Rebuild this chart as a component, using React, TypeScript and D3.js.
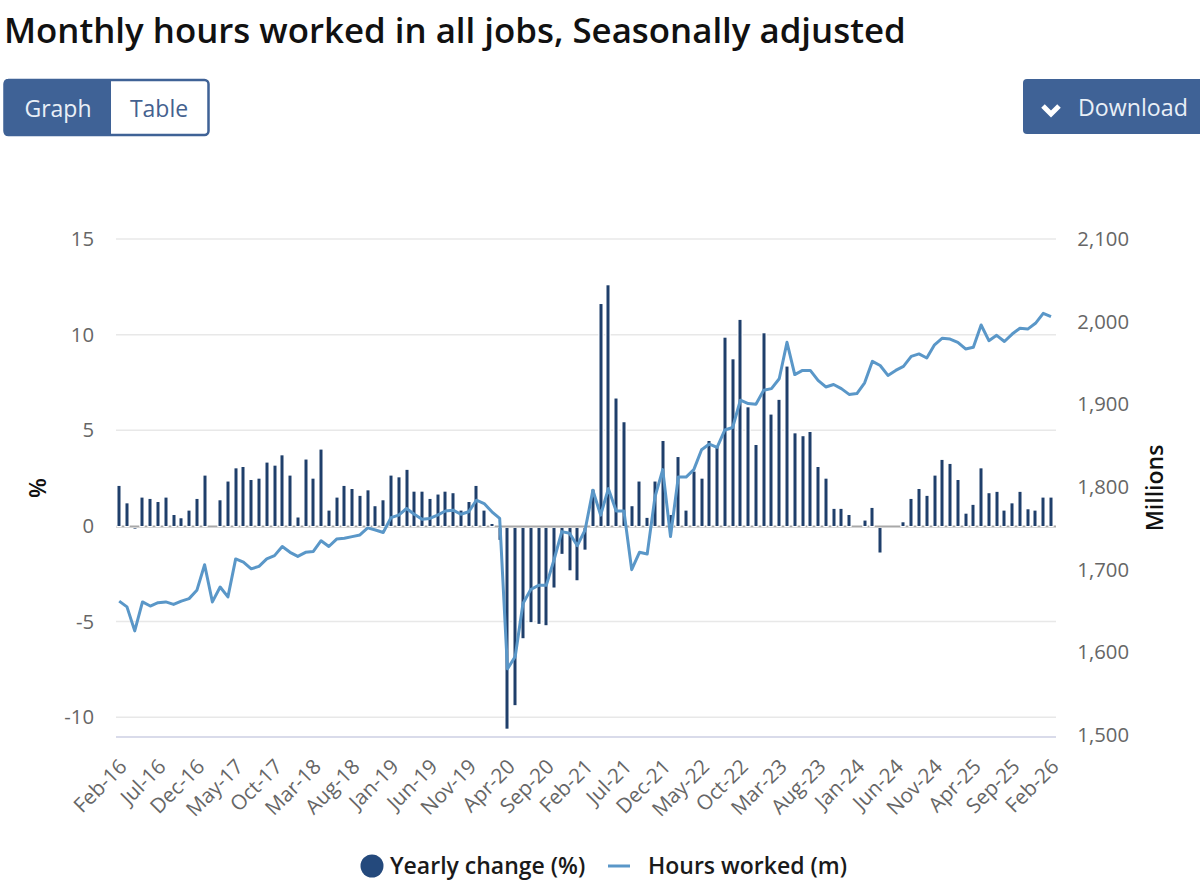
import React from "react";
import * as d3 from "d3";

const startYear = 2016;
const monthNames = ["Jan","Feb","Mar","Apr","May","Jun","Jul","Aug","Sep","Oct","Nov","Dec"];
const yearlyChange = [
  2.09,1.18,-0.14,1.48,1.41,1.25,1.48,0.57,0.4,0.8,1.41,2.63,0.02,1.34,2.32,3.01,3.08,2.4,2.47,3.31,
  3.15,3.69,2.63,0.44,3.47,2.47,3.99,0.8,1.48,2.09,1.93,1.57,1.86,1.03,1.34,2.63,2.54,2.93,1.79,1.79,
  1.41,1.64,1.79,1.71,0.8,1.25,2.09,0.8,0.1,-0.73,-10.6,-9.37,-5.87,-5.03,-5.12,-5.19,-3.22,-1.46,-2.32,-2.84,
  -1.24,1.9,11.6,12.58,6.66,5.42,1.03,2.32,0.42,2.32,4.44,0.57,3.6,0.8,2.84,2.47,4.44,4.15,9.84,8.71,
  10.77,6.2,4.23,10.07,5.82,6.59,8.33,4.84,4.69,4.91,3.08,2.47,0.89,0.89,0.57,0.03,0.28,0.94,-1.39,0.02,
  0.01,0.19,1.41,1.93,1.57,2.63,3.45,3.24,2.4,0.64,1.1,3.01,1.71,1.78,0.8,1.18,1.78,0.87,0.8,1.48,1.48,
];
const hoursWorked = [
  1662,1655,1626,1661,1656,1660,1661,1658,1662,1665,1675,1706,1661,1679,1667,1713,1709,1701,1704,1713,
  1717,1728,1721,1716,1721,1722,1735,1728,1737,1738,1740,1742,1750.5,1748,1745,1763,1766,1774,1767,1761,
  1762,1766,1771,1772,1767,1770,1784,1780,1770,1762,1580,1595,1659,1676,1681,1681,1712,1746,1744,1729,
  1748,1796,1766,1798,1771,1771,1700,1721,1719,1788,1821,1740,1812,1812,1821,1845,1852,1848,1869,1872,
  1905,1901,1900,1917,1919,1931,1975,1936,1941,1941,1929,1921,1924,1919,1912,1913,1926,1952,1947,1935,
  1941,1946,1958,1961,1956,1972,1980,1979,1975,1967,1969,1996,1977,1983.5,1976,1985,1992,1991,1998,2010,2006,
];
const leftTicks = [15, 10, 5, 0, -5, -10];
const rightTicks = [2100, 2000, 1900, 1800, 1700, 1600, 1500];
const labelEvery = 5;
const titleText = "Monthly hours worked in all jobs, Seasonally adjusted";

const FONT = "'Open Sans', sans-serif";
const BTN = "#3f6296";
const BAR = "#1f3f6b";
const LINE = "#5a97c8";
const GRID = "#e8e8e8";
const LABEL = "#666666";

const monthLabel = (i: number) => {
  const m = (1 + i) % 12;
  const y = startYear + Math.floor((1 + i) / 12);
  return `${monthNames[m]}-${String(y).slice(2)}`;
};

export default function App() {
  const x = d3.scaleLinear().domain([0, yearlyChange.length - 1]).range([119.2, 1051]);
  const yL = d3.scaleLinear().domain([15, -10]).range([239, 717.2]);
  const yR = d3.scaleLinear().domain([2100, 1500]).range([239, 735]);
  const hoursLine = d3
    .line<number>()
    .x((_, i) => x(i))
    .y((d) => yR(d));
  const y0 = Math.round(yL(0));
  const bar = (v: number, i: number, neg: boolean) => {
    const xb = Math.round(x(i)) - 1.5;
    const top = neg ? y0 + 2 : yL(v);
    const h = neg ? yL(v) - y0 - 2 : y0 - yL(v);
    return (
      <rect key={i} x={xb} y={top} width={3} height={Math.max(h, 0.5)} fill={BAR} stroke="#fff" strokeWidth={2.3} paintOrder="stroke" />
    );
  };
  const isZero = (v: number) => Math.abs(v) < 0.05;
  return (
    <svg width={1200} height={884} style={{ position: "absolute", left: 0, top: 0, background: "#fff", fontFamily: FONT }}>
      <text x={4} y={43} fontSize={34.85} fontWeight={600} fill="#111">{titleText}</text>

      <rect x={4.5} y={80} width={204} height={55} rx={4} fill="#fff" stroke={BTN} strokeWidth={2.5} />
      <path d="M8,79 H111 V136 H8 a4,4 0 0 1 -4,-4 V83 a4,4 0 0 1 4,-4 Z" fill={BTN} />
      <text x={58} y={117} fontSize={23} textAnchor="middle" fill="#e9eff7">Graph</text>
      <text x={159} y={117} fontSize={23} textAnchor="middle" fill="#44618f">Table</text>

      <rect x={1023} y={79} width={200} height={55} rx={4} fill={BTN} />
      <path d="M1043,106 L1051,114 L1059,106" fill="none" stroke="#fff" strokeWidth={5} />
      <text x={1078} y={116} fontSize={23.2} fill="#e9eff7">Download</text>

      {leftTicks.filter((t) => t !== 0).map((t) => (
        <line key={t} x1={116} x2={1056} y1={yL(t)} y2={yL(t)} stroke={GRID} strokeWidth={1.5} />
      ))}
      <line x1={116} x2={1056} y1={737} y2={737} stroke="#d9dbea" strokeWidth={2} />

      {yearlyChange.map((v, i) => (v < 0 && !isZero(v) ? bar(v, i, true) : null))}
      <line x1={116} x2={1056} y1={y0 + 0.5} y2={y0 + 0.5} stroke="#a8a8a8" strokeWidth={2} />
      {yearlyChange.map((v, i) => (v > 0 && !isZero(v) ? bar(v, i, false) : null))}

      <path d={hoursLine(hoursWorked) || ""} fill="none" stroke={LINE} strokeWidth={3} strokeLinejoin="round" />

      {leftTicks.map((t) => (
        <text key={t} x={94} y={yL(t) + 7} fontSize={20.3} textAnchor="end" fill={LABEL}>{t}</text>
      ))}
      {rightTicks.map((t) => (
        <text key={t} x={1129} y={yR(t) + 7} fontSize={20.3} textAnchor="end" fill={LABEL}>{d3.format(",")(t)}</text>
      ))}
      <text transform="translate(46,488) rotate(-90)" fontSize={23} fontWeight={600} textAnchor="middle" fill="#111">%</text>
      <text transform="translate(1163,488) rotate(-90)" fontSize={23} fontWeight={600} textAnchor="middle" fill="#111">Millions</text>

      {yearlyChange.map((_, i) =>
        i % labelEvery === 0 ? (
          <text key={i} transform={`translate(${x(i) + 9},${768}) rotate(-45)`} fontSize={20.6} textAnchor="end" fill={LABEL}>
            {monthLabel(i)}
          </text>
        ) : null
      )}

      <circle cx={372} cy={866} r={11.5} fill="#24497c" />
      <text x={390} y={874} fontSize={23} fontWeight={600} fill="#1a1a1a">Yearly change (%)</text>
      <line x1={608} x2={630} y1={866} y2={866} stroke={LINE} strokeWidth={3} />
      <text x={648} y={874} fontSize={23} fontWeight={600} fill="#1a1a1a">Hours worked (m)</text>
    </svg>
  );
}
